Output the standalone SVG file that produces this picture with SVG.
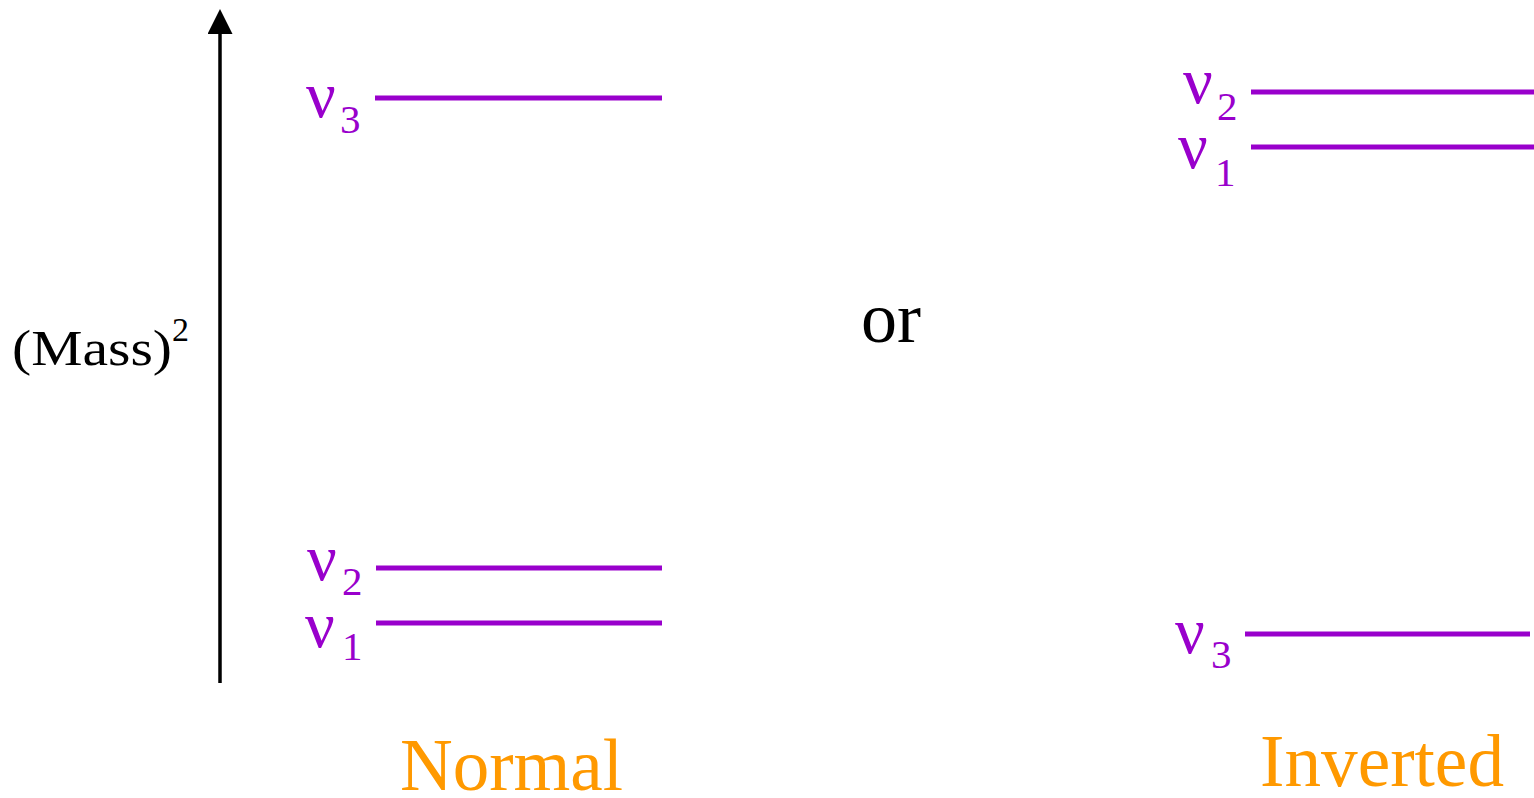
<svg xmlns="http://www.w3.org/2000/svg" width="1534" height="798" viewBox="0 0 1534 798">
<style>
.lvl{stroke:#9900CC;stroke-width:5;fill:none}
.nu{font-family:"Liberation Serif",serif;font-size:66px;fill:#9900CC}
.sub{font-family:"Liberation Serif",serif;font-size:41px;fill:#9900CC}
.lbl{font-family:"Liberation Serif",serif;font-size:73px;fill:#FF9900}
.blk{font-family:"Liberation Serif",serif;fill:#000}
</style>
<defs>
<marker id="ah" markerWidth="25" markerHeight="25" refX="0" refY="12.5" orient="auto" markerUnits="userSpaceOnUse">
<path d="M0,0 L25,12.5 L0,25 Z" fill="#000"/>
</marker>
</defs>
<g id="connectors">
<line x1="220" y1="683" x2="220" y2="34" stroke="#000" stroke-width="3.5" marker-end="url(#ah)"/>
</g>
<g id="axis-label">
<text class="blk" x="12" y="365" font-size="50" textLength="160" lengthAdjust="spacingAndGlyphs">(Mass)</text>
<text class="blk" x="172" y="341" font-size="34">2</text>
</g>
<g id="normal-nu3">
<line class="lvl" x1="375" y1="98" x2="662" y2="98"/>
<text class="nu" x="306" y="117">ν</text><text class="sub" x="340" y="133">3</text>
</g>
<g id="normal-nu2">
<line class="lvl" x1="376" y1="568" x2="662" y2="568"/>
<text class="nu" x="307" y="580">ν</text><text class="sub" x="342" y="595">2</text>
</g>
<g id="normal-nu1">
<line class="lvl" x1="376" y1="623" x2="662" y2="623"/>
<text class="nu" x="305" y="647">ν</text><text class="sub" x="342" y="660">1</text>
</g>
<g id="or">
<text class="blk" x="861" y="342" font-size="72">or</text>
</g>
<g id="inverted-nu2">
<line class="lvl" x1="1251" y1="92" x2="1534" y2="92"/>
<text class="nu" x="1183" y="103">ν</text><text class="sub" x="1217" y="120">2</text>
</g>
<g id="inverted-nu1">
<line class="lvl" x1="1251" y1="147" x2="1534" y2="147"/>
<text class="nu" x="1178" y="168">ν</text><text class="sub" x="1215" y="186">1</text>
</g>
<g id="inverted-nu3">
<line class="lvl" x1="1245" y1="634" x2="1530" y2="634"/>
<text class="nu" x="1175" y="653">ν</text><text class="sub" x="1211" y="668">3</text>
</g>
<g id="normal-label">
<text class="lbl" x="400" y="790">Normal</text>
</g>
<g id="inverted-label">
<text class="lbl" x="1260" y="786" textLength="244" lengthAdjust="spacingAndGlyphs">Inverted</text>
</g>
</svg>
